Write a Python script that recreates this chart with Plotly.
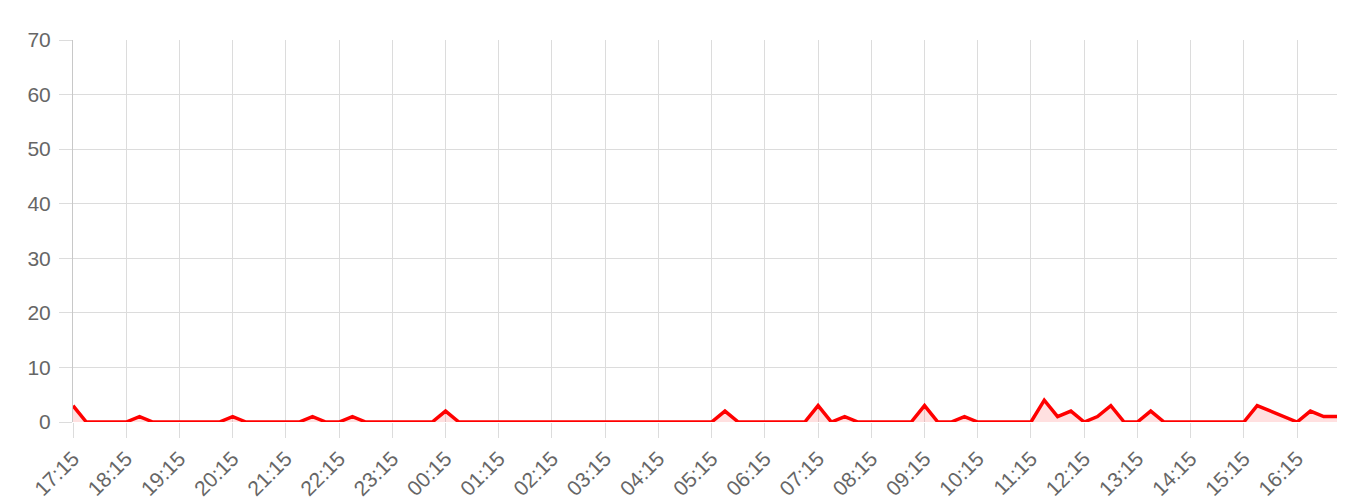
import pandas as pd
import plotly.graph_objects as go

# 15-minute buckets from 17:15 to 17:00 next day
times = list(pd.date_range("2024-01-01 17:15", periods=96, freq="15min").strftime("%H:%M"))

counts = [
    3, 0, 0, 0, 0, 1, 0, 0, 0, 0, 0, 0, 1, 0, 0, 0,
    0, 0, 1, 0, 0, 1, 0, 0, 0, 0, 0, 0, 2, 0, 0, 0,
    0, 0, 0, 0, 0, 0, 0, 0, 0, 0, 0, 0, 0, 0, 0, 0,
    0, 2, 0, 0, 0, 0, 0, 0, 3, 0, 1, 0, 0, 0, 0, 0,
    3, 0, 0, 1, 0, 0, 0, 0, 0, 4, 1, 2, 0, 1, 3, 0,
    0, 2, 0, 0, 0, 0, 0, 0, 0, 3, 2, 1, 0, 2, 1, 1,
]

hour_labels = times[::4]
y_ticks = [0, 10, 20, 30, 40, 50, 60, 70]

grid = "#dcdcdc"
fig = go.Figure()
fig.add_trace(go.Scatter(
    x=times,
    y=counts,
    mode="lines",
    line=dict(color="#ff0000", width=3.5),
    fill="tozeroy",
    fillcolor="rgba(255,0,0,0.12)",
    hoverinfo="x+y",
))

# page body has an 8px margin, so the figure is 8px smaller each way
fig.update_layout(
    width=1352,
    height=495,
    margin=dict(l=65, r=23, t=32, b=81),
    paper_bgcolor="white",
    plot_bgcolor="white",
    showlegend=False,
    font=dict(family="Liberation Sans, Arial, sans-serif", size=21, color="#666666"),
)
fig.update_xaxes(
    type="category",
    range=[0, len(times) - 1],
    tickmode="array",
    tickvals=hour_labels,
    ticktext=hour_labels,
    tickangle=-45,
    ticks="outside",
    ticklen=15,
    tickcolor=grid,
    showgrid=True,
    gridcolor=grid,
    gridwidth=1,
    showline=False,
    zeroline=False,
    automargin=False,
)
fig.update_yaxes(
    range=[0, 70],
    tickvals=y_ticks,
    ticks="outside",
    ticklen=13,
    tickcolor=grid,
    showgrid=True,
    gridcolor=grid,
    gridwidth=1,
    showline=True,
    linecolor="#c8c8c8",
    zeroline=False,
    automargin=False,
    ticklabelstandoff=4,
)

fig.write_html("out.html")
